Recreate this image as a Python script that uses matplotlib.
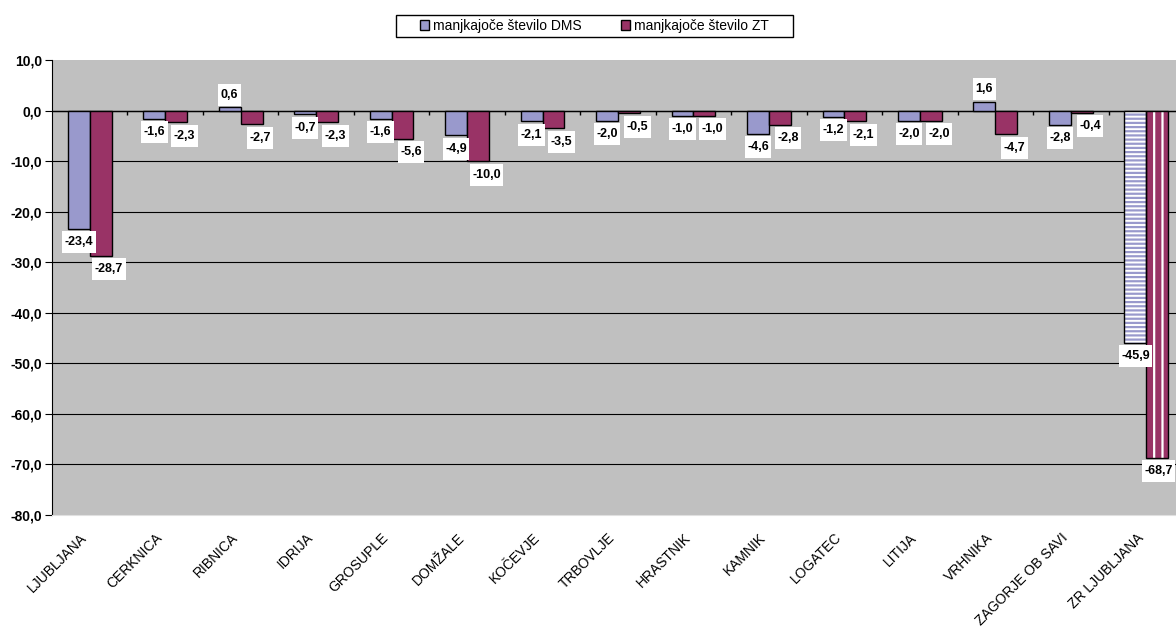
import numpy as np
import matplotlib.pyplot as plt
import matplotlib.transforms as mtransforms
from matplotlib.patches import Patch, Rectangle
from matplotlib.path import Path

# podatki
kraji = ['LJUBLJANA', 'CERKNICA', 'RIBNICA', 'IDRIJA', 'GROSUPLE', 'DOMŽALE', 'KOČEVJE',
         'TRBOVLJE', 'HRASTNIK', 'KAMNIK', 'LOGATEC', 'LITIJA', 'VRHNIKA',
         'ZAGORJE OB SAVI', 'ZR LJUBLJANA']
dms = [-23.4, -1.6, 0.6, -0.7, -1.6, -4.9, -2.1, -2.0, -1.0, -4.6, -1.2, -2.0, 1.6, -2.8, -45.9]
zt = [-28.7, -2.3, -2.7, -2.3, -5.6, -10.0, -3.5, -0.5, -1.0, -2.8, -2.1, -2.0, -4.7, -0.4, -68.7]
yticks = np.arange(-80, 11, 10)

c_dms = '#9999CC'
c_zt = '#993366'

plt.rcParams['font.family'] = ['Liberation Sans', 'DejaVu Sans']
plt.rcParams['hatch.linewidth'] = 1.6

fig = plt.figure(figsize=(11.76, 6.28), dpi=100)
ax = fig.add_axes([0.0442, 0.18, 0.9626, 0.7245])
ax.set_facecolor('#C0C0C0')

x = np.arange(len(kraji))
w = 0.29
n = len(kraji) - 1

# mreža (brez črte na robu)
ax.hlines(yticks[1:-1], -0.5, len(kraji) - 0.5, color='black', linewidth=0.8, zorder=1)

# navadni stolpci
ax.bar(x[:n] - w/2, dms[:n], w, color=c_dms, edgecolor='black', linewidth=1, zorder=3)
ax.bar(x[:n] + w/2, zt[:n], w, color=c_zt, edgecolor='black', linewidth=1, zorder=3)
# zadnji (črtkani) stolpci
ax.bar(x[n] - w/2, dms[n], w, color='white', edgecolor=c_dms, hatch='----', linewidth=0, zorder=3)
ax.bar(x[n] + w/2, zt[n], w, color=c_zt, edgecolor='white', hatch='||', linewidth=0, zorder=3)
ax.bar(x[n] - w/2, dms[n], w, fill=False, edgecolor='black', linewidth=1, zorder=4)
ax.bar(x[n] + w/2, zt[n], w, fill=False, edgecolor='black', linewidth=1, zorder=4)


# okvir oznake: malo roba levo/desno, več zgoraj/spodaj
def label_box(x0, y0, width, height, mutation_size):
    px = 0.2 * mutation_size
    py = 0.4 * mutation_size
    x0, y0 = x0 - px, y0 - py
    x1, y1 = x0 + width + 2 * px, y0 + height + 2 * py
    return Path([(x0, y0), (x1, y0), (x1, y1), (x0, y1), (x0, y0)], closed=True)


def fmt(v):
    return ('%.1f' % v).replace('.', ',')


for xs, vals, dx in ((x - w/2, dms, 0), (x + w/2, zt, 6)):
    for i, (xi, v) in enumerate(zip(xs, vals)):
        if v >= 0:
            off, va = 5, 'bottom'
        else:
            off, va = -5.5, 'top'
        # zadnja oznaka ob desnem robu
        d = min(dx, 1) if i == n else dx
        ax.annotate(fmt(v), (xi, v), xytext=(d, off), textcoords='offset points',
                    ha='center', va=va, fontsize=9, fontweight='bold', zorder=5,
                    bbox=dict(boxstyle=label_box, fc='white', ec='none'))

# osi
ax.set_xlim(-0.5, len(kraji) - 0.5)
ax.set_ylim(-80, 10)
ax.set_yticks(yticks)
ax.set_yticklabels([fmt(v) for v in yticks], fontsize=10, fontweight='bold')
ax.axhline(0, color='black', linewidth=1, zorder=2)
ax.vlines(np.arange(0.5, len(kraji) - 0.5), -0.9, 0.0, color='black', linewidth=1, zorder=2)

ax.set_xticks(x)
ax.set_xticklabels(kraji, rotation=45, ha='right', rotation_mode='anchor', fontsize=10)
ax.tick_params(axis='x', length=0, pad=9)
ax.tick_params(axis='y', length=5, direction='out', pad=2)
premik = mtransforms.ScaledTranslation(-0.1, -0.03, fig.dpi_scale_trans)
for lab in ax.get_xticklabels():
    lab.set_transform(lab.get_transform() + premik)

for s in ['top', 'right']:
    ax.spines[s].set_visible(False)
ax.spines['bottom'].set_color('#E0E0E0')
ax.spines['left'].set_color('black')

# legenda
handles = [Patch(facecolor=c_dms, edgecolor='black', label='manjkajoče število DMS'),
           Patch(facecolor=c_zt, edgecolor='black', label='manjkajoče število ZT')]
fig.legend(handles=handles, loc='center', bbox_to_anchor=(0.5055, 0.9586), ncol=2,
           fontsize=10, frameon=False,
           handlelength=0.65, handleheight=0.65, handletextpad=0.3, columnspacing=2.8,
           borderpad=0.25)
fig.patches.append(Rectangle((396 / 1176, 1 - 37 / 628), 397 / 1176, 22 / 628,
                             transform=fig.transFigure, fill=False,
                             edgecolor='black', linewidth=1))

fig.savefig('out.png', dpi=100)
